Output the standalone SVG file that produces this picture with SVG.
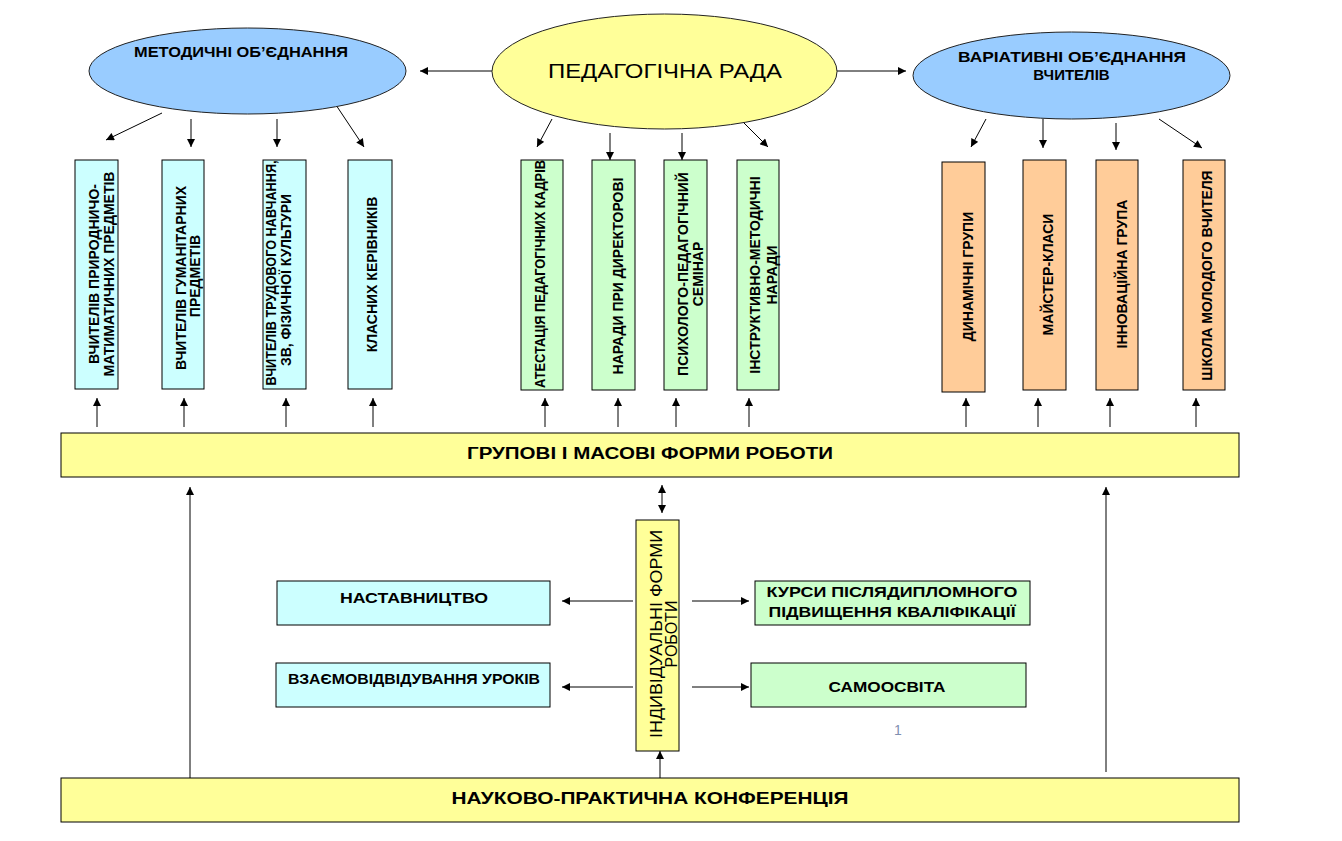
<svg xmlns="http://www.w3.org/2000/svg" width="1342" height="841" viewBox="0 0 1342 841">
<style>
text{font-family:"Liberation Sans",Arial,sans-serif;fill:#000}
.b{font-weight:bold}
.v{font-size:14px;font-weight:bold;text-anchor:middle}
.box{stroke:#000;stroke-width:1}
.cy{fill:#CCFFFF}
.gr{fill:#CCFFCC}
.or{fill:#FFCC99}
.ye{fill:#FFFF99}
.ln{stroke:#000;stroke-width:1;fill:none;marker-end:url(#ah)}
</style>
<defs>
<marker id="ah" viewBox="0 0 10 10" refX="10" refY="5" markerWidth="9" markerHeight="8" markerUnits="userSpaceOnUse" orient="auto-start-reverse">
<path d="M0,0 L10,5 L0,10 z" fill="#000"/>
</marker>
</defs>
<rect width="1342" height="841" fill="#fff"/>

<g id="connectors">
<line class="ln" x1="492" y1="71" x2="420" y2="71"/>
<line class="ln" x1="837" y1="71" x2="906" y2="71"/>
<line class="ln" x1="162" y1="113" x2="106" y2="140"/>
<line class="ln" x1="191" y1="119" x2="191" y2="147"/>
<line class="ln" x1="277" y1="119" x2="277" y2="147"/>
<line class="ln" x1="336" y1="105" x2="364" y2="147"/>
<line class="ln" x1="552" y1="119" x2="537" y2="147"/>
<line class="ln" x1="610" y1="133" x2="610" y2="160"/>
<line class="ln" x1="682" y1="133" x2="682" y2="160"/>
<line class="ln" x1="740" y1="119" x2="768" y2="147"/>
<line class="ln" x1="986" y1="119" x2="971" y2="147"/>
<line class="ln" x1="1043" y1="119" x2="1043" y2="148"/>
<line class="ln" x1="1116" y1="123" x2="1116" y2="150"/>
<line class="ln" x1="1159" y1="119" x2="1202" y2="148"/>
<line class="ln" x1="97" y1="427" x2="97" y2="398"/>
<line class="ln" x1="184" y1="427" x2="184" y2="398"/>
<line class="ln" x1="286" y1="427" x2="286" y2="398"/>
<line class="ln" x1="373" y1="427" x2="373" y2="398"/>
<line class="ln" x1="545" y1="427" x2="545" y2="398"/>
<line class="ln" x1="618" y1="427" x2="618" y2="398"/>
<line class="ln" x1="676" y1="427" x2="676" y2="398"/>
<line class="ln" x1="749" y1="427" x2="749" y2="398"/>
<line class="ln" x1="966" y1="427" x2="966" y2="398"/>
<line class="ln" x1="1038" y1="427" x2="1038" y2="398"/>
<line class="ln" x1="1110" y1="427" x2="1110" y2="398"/>
<line class="ln" x1="1196" y1="427" x2="1196" y2="398"/>
<line class="ln" x1="190" y1="778" x2="190" y2="487"/>
<line class="ln" x1="1106" y1="772" x2="1106" y2="487"/>
<line class="ln" x1="660" y1="778" x2="660" y2="751"/>
<line class="ln" x1="662" y1="485" x2="662" y2="513" style="marker-start:url(#ah)"/>
<line class="ln" x1="633" y1="601" x2="562" y2="601"/>
<line class="ln" x1="633" y1="687" x2="562" y2="687"/>
<line class="ln" x1="692" y1="601" x2="749" y2="601"/>
<line class="ln" x1="692" y1="687" x2="749" y2="687"/>
</g>

<g id="metod">
<ellipse cx="247.5" cy="71" rx="158.5" ry="43" fill="#99CCFF" stroke="#222" stroke-width="1"/>
<text class="b" x="241" y="57" font-size="14" text-anchor="middle" textLength="214" lengthAdjust="spacingAndGlyphs">МЕТОДИЧНІ ОБ’ЄДНАННЯ</text>
</g>
<g id="pedrada">
<ellipse cx="664.5" cy="71.5" rx="172.5" ry="57.5" fill="#FFFF99" stroke="#222" stroke-width="1"/>
<text x="665" y="78" font-size="21" text-anchor="middle" textLength="234" lengthAdjust="spacingAndGlyphs">ПЕДАГОГІЧНА РАДА</text>
</g>
<g id="variat">
<ellipse cx="1071.5" cy="75.5" rx="158.5" ry="43.5" fill="#99CCFF" stroke="#222" stroke-width="1"/>
<text class="b" x="1072" y="62" font-size="15" text-anchor="middle" textLength="228" lengthAdjust="spacingAndGlyphs">ВАРІАТИВНІ ОБ’ЄДНАННЯ</text>
<text class="b" x="1071.5" y="80" font-size="15" text-anchor="middle">ВЧИТЕЛІВ</text>
</g>

<g id="b1"><rect class="box cy" x="75" y="160" width="43" height="229"/>
<g transform="translate(0,274) rotate(-90)"><text class="v" x="0" y="99">ВЧИТЕЛІВ ПРИРОДНИЧО-</text><text class="v" x="0" y="114">МАТИМАТИЧНИХ ПРЕДМЕТІВ</text></g></g>
<g id="b2"><rect class="box cy" x="162" y="160" width="42" height="229"/>
<g transform="translate(0,278) rotate(-90)"><text class="v" x="0" y="186">ВЧИТЕЛІВ ГУМАНІТАРНИХ</text><text class="v" x="2" y="200">ПРЕДМЕТІВ</text></g></g>
<g id="b3"><rect class="box cy" x="263" y="160" width="43" height="229"/>
<g transform="translate(0,274) rotate(-90)"><text class="v" x="1" y="276" textLength="225" lengthAdjust="spacingAndGlyphs">ВЧИТЕЛІВ ТРУДОВОГО НАВЧАННЯ,</text><text class="v" x="-6" y="291">ЗВ, ФІЗИЧНОЇ КУЛЬТУРИ</text></g></g>
<g id="b4"><rect class="box cy" x="348" y="160" width="44" height="229"/>
<g transform="translate(0,274.5) rotate(-90)"><text class="v" x="0" y="377">КЛАСНИХ КЕРІВНИКІВ</text></g></g>

<g id="b5"><rect class="box gr" x="521" y="160" width="42" height="230"/>
<g transform="translate(0,274) rotate(-90)"><text class="v" x="0" y="545" textLength="228" lengthAdjust="spacingAndGlyphs">АТЕСТАЦІЯ ПЕДАГОГІЧНИХ КАДРІВ</text></g></g>
<g id="b6"><rect class="box gr" x="592" y="160" width="43" height="230"/>
<g transform="translate(0,276) rotate(-90)"><text class="v" x="0" y="623">НАРАДИ ПРИ ДИРЕКТОРОВІ</text></g></g>
<g id="b7"><rect class="box gr" x="664" y="160" width="43" height="230"/>
<g transform="translate(0,274) rotate(-90)"><text class="v" x="0" y="688">ПСИХОЛОГО-ПЕДАГОГІЧНИЙ</text><text class="v" x="0" y="703">СЕМІНАР</text></g></g>
<g id="b8"><rect class="box gr" x="737" y="160" width="42" height="230"/>
<g transform="translate(0,275) rotate(-90)"><text class="v" x="0" y="760">ІНСТРУКТИВНО-МЕТОДИЧНІ</text><text class="v" x="0" y="777">НАРАДИ</text></g></g>

<g id="b9"><rect class="box or" x="942" y="162" width="43" height="230"/>
<g transform="translate(0,276.5) rotate(-90)"><text class="v" x="0" y="973">ДИНАМІЧНІ ГРУПИ</text></g></g>
<g id="b10"><rect class="box or" x="1023" y="160" width="43" height="230"/>
<g transform="translate(0,274.5) rotate(-90)"><text class="v" x="0" y="1053">МАЙСТЕР-КЛАСИ</text></g></g>
<g id="b11"><rect class="box or" x="1096" y="160" width="42" height="230"/>
<g transform="translate(0,274) rotate(-90)"><text class="v" x="0" y="1127">ІННОВАЦІЙНА ГРУПА</text></g></g>
<g id="b12"><rect class="box or" x="1183" y="160" width="42" height="230"/>
<g transform="translate(0,275.5) rotate(-90)"><text class="v" x="0" y="1212">ШКОЛА МОЛОДОГО ВЧИТЕЛЯ</text></g></g>

<g id="grupovi"><rect class="box ye" x="61" y="433" width="1178" height="44"/>
<text class="b" x="650" y="459" font-size="16" text-anchor="middle" textLength="366" lengthAdjust="spacingAndGlyphs">ГРУПОВІ І МАСОВІ ФОРМИ РОБОТИ</text></g>

<g id="individ"><rect class="box ye" x="636" y="520" width="43" height="231"/>
<g transform="translate(0,634) rotate(-90)"><text x="0" y="662" font-size="16" text-anchor="middle" textLength="208" lengthAdjust="spacingAndGlyphs">ІНДИВІДУАЛЬНІ ФОРМИ</text><text x="0" y="677" font-size="16" text-anchor="middle">РОБОТИ</text></g></g>

<g id="nastav"><rect class="box cy" x="277" y="581" width="273" height="44"/>
<text class="b" x="414" y="603" font-size="15" text-anchor="middle" textLength="148" lengthAdjust="spacingAndGlyphs">НАСТАВНИЦТВО</text></g>
<g id="vzaemo"><rect class="box cy" x="276" y="663" width="274" height="44"/>
<text class="b" x="414" y="684" font-size="15" text-anchor="middle" textLength="252" lengthAdjust="spacingAndGlyphs">ВЗАЄМОВІДВІДУВАННЯ УРОКІВ</text></g>
<g id="kursy"><rect class="box gr" x="755" y="581" width="275" height="44"/>
<text class="b" x="892" y="597" font-size="15" text-anchor="middle" textLength="251" lengthAdjust="spacingAndGlyphs">КУРСИ ПІСЛЯДИПЛОМНОГО</text>
<text class="b" x="892" y="617" font-size="15" text-anchor="middle" textLength="247" lengthAdjust="spacingAndGlyphs">ПІДВИЩЕННЯ КВАЛІФІКАЦІЇ</text></g>
<g id="samoosvita"><rect class="box gr" x="751" y="663" width="275" height="44"/>
<text class="b" x="887" y="692" font-size="15" text-anchor="middle" textLength="117" lengthAdjust="spacingAndGlyphs">САМООСВІТА</text></g>

<text x="898" y="735" font-size="14" text-anchor="middle" style="font-family:'Liberation Sans',sans-serif;fill:#7F8FB0">1</text>

<g id="konf"><rect class="box ye" x="61" y="778" width="1178" height="44"/>
<text class="b" x="650" y="804" font-size="17" text-anchor="middle" textLength="397" lengthAdjust="spacingAndGlyphs">НАУКОВО-ПРАКТИЧНА КОНФЕРЕНЦІЯ</text></g>
</svg>
